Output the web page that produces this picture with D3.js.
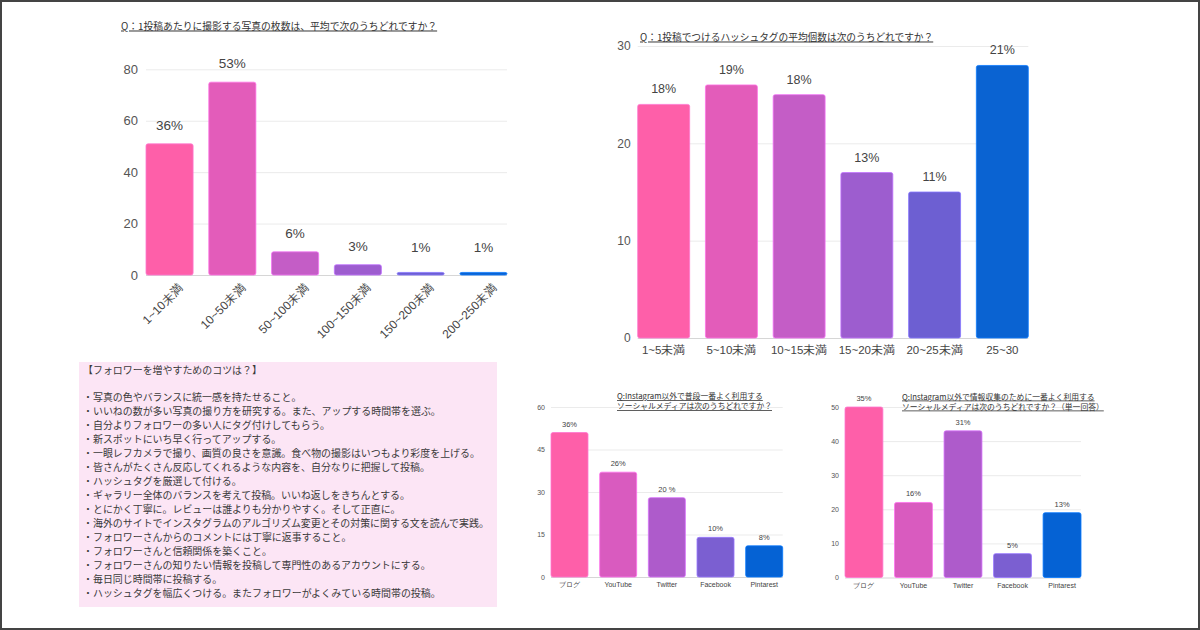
<!DOCTYPE html>
<html><head><meta charset="utf-8">
<script src="https://cdn.jsdelivr.net/npm/d3@7"></script>
<style>
body{margin:0;background:#fff}
svg{display:block;font-family:"Liberation Sans","Noto Sans CJK JP",sans-serif}
</style>
</head><body>
<svg id="c" width="1200" height="630"></svg>
<script>
// ---- data ----
const photoTitle = ["Q：1投稿あたりに撮影する写真の枚数は、平均で次のうちどれですか？"];
const photoCategories = ["1~10未満","10~50未満","50~100未満","100~150未満","150~200未満","200~250未満"];
const photoValues = [51, 75, 9, 4, 1, 1];
const photoLabels = ["36%","53%","6%","3%","1%","1%"];
const photoTicks = [0, 20, 40, 60, 80];

const tagTitle = ["Q：1投稿でつけるハッシュタグの平均個数は次のうちどれですか？"];
const tagCategories = ["1~5未満","5~10未満","10~15未満","15~20未満","20~25未満","25~30"];
const tagValues = [24, 26, 25, 17, 15, 28];
const tagLabels = ["18%","19%","18%","13%","11%","21%"];
const tagTicks = [0, 10, 20, 30];

const snsCategories = ["ブログ","YouTube","Twitter","Facebook","Pintarest"];

const snsUseTitle = ["Q:Instagram以外で普段一番よく利用する","ソーシャルメディアは次のうちどれですか？"];
const snsUseValues = [51, 37, 28, 14, 11];
const snsUseLabels = ["36%","26%","20 %","10%","8%"];
const snsUseTicks = [0, 15, 30, 45, 60];

const snsInfoTitle = ["Q:Instagram以外で情報収集のために一番よく利用する","ソーシャルメディアは次のうちどれですか？（単一回答）"];
const snsInfoValues = [50, 22, 43, 7, 19];
const snsInfoLabels = ["35%","16%","31%","5%","13%"];
const snsInfoTicks = [0, 10, 20, 30, 40, 50];

const tipsTitle = "【フォロワーを増やすためのコツは？】";
const tips = [
  "・写真の色やバランスに統一感を持たせること。",
  "・いいねの数が多い写真の撮り方を研究する。また、アップする時間帯を選ぶ。",
  "・自分よりフォロワーの多い人にタグ付けしてもらう。",
  "・新スポットにいち早く行ってアップする。",
  "・一眼レフカメラで撮り、画質の良さを意識。食べ物の撮影はいつもより彩度を上げる。",
  "・皆さんがたくさん反応してくれるような内容を、自分なりに把握して投稿。",
  "・ハッシュタグを厳選して付ける。",
  "・ギャラリー全体のバランスを考えて投稿。いいね返しをきちんとする。",
  "・とにかく丁寧に。レビューは誰よりも分かりやすく。そして正直に。",
  "・海外のサイトでインスタグラムのアルゴリズム変更とその対策に関する文を読んで実践。",
  "・フォロワーさんからのコメントには丁寧に返事すること。",
  "・フォロワーさんと信頼関係を築くこと。",
  "・フォロワーさんの知りたい情報を投稿して専門性のあるアカウントにする。",
  "・毎日同じ時間帯に投稿する。",
  "・ハッシュタグを幅広くつける。またフォロワーがよくみている時間帯の投稿。"
];

// ---- styles ----
const palette6 = ["#fe5fa9","#e35cba","#c45dc6","#9d5dcf","#6d5fd2","#0a63d2"];
const palette5 = ["#fe5fa9","#d95bbf","#ae5bcb","#7b5fd1","#0562d4"];

const svg = d3.select("#c");

// frame
svg.append("rect").attr("x",1).attr("y",1).attr("width",1198).attr("height",628)
  .attr("fill","none").attr("stroke","#444").attr("stroke-width",2);

function barChart(o){
  const g = svg.append("g");
  const x = d3.scaleBand().domain(o.cats).range([o.x0, o.x1]).paddingInner(o.pad).paddingOuter(0);
  const y = d3.scaleLinear().domain([0, d3.max(o.ticks)]).range([o.yb, o.yt]);

  // grid + y labels
  const ya = g.append("g").attr("transform",`translate(${o.x0},0)`)
    .call(d3.axisLeft(y).tickValues(o.ticks).tickSize(-(o.x1-o.x0)).tickPadding(o.tickPad));
  ya.select(".domain").remove();
  ya.selectAll("line").attr("stroke", d => d===0 ? "#d6d6d6" : "#ebebeb").attr("stroke-width", d => d===0?1.2:1);
  ya.selectAll("text").attr("fill","#555").style("font-size",o.tickFont+"px")
    .style("font-family","'Liberation Sans',sans-serif");

  // bars
  g.selectAll("rect.bar").data(o.vals).join("rect").attr("class","bar")
    .attr("x",(d,i)=>x(o.cats[i])).attr("width",x.bandwidth())
    .attr("y",d=>y(d)).attr("height",d=>y(0)-y(d))
    .attr("rx",2).attr("fill",(d,i)=>o.colors[i])
    .attr("stroke",(d,i)=>d3.color(o.colors[i]).brighter(0.6)).attr("stroke-width",0.8);

  // value labels
  g.selectAll("text.val").data(o.vals).join("text").attr("class","val")
    .attr("x",(d,i)=>x(o.cats[i])+x.bandwidth()/2)
    .attr("y",d=>Math.min(y(d)-o.labOff, o.labFloor ? y(0)-o.labFloor : 1e9))
    .attr("text-anchor","middle").attr("fill","#444")
    .style("font-size",o.labFont+"px")
    .text((d,i)=>o.labels[i]);

  // x labels
  const xa = g.append("g").attr("transform",`translate(0,${o.yb})`)
    .call(d3.axisBottom(x).tickSize(0).tickPadding(o.catPad));
  xa.select(".domain").remove();
  xa.selectAll("text").attr("fill","#444").style("font-size",o.catFont+"px");
  if(o.rotate){
    xa.selectAll("text").attr("text-anchor","end").attr("y",0).attr("dy",0)
      .attr("transform",`translate(${o.rotDx},${o.rotDy}) rotate(-45)`);
  }

  // title
  o.title.forEach((t,i)=>{
    g.append("text").attr("x",o.titleX).attr("y",o.titleY + i*o.titleLH)
      .attr("fill","#333").attr("text-decoration","underline")
      .style("font-size",o.titleFont+"px")
      .style("font-family","'Noto Sans CJK JP',sans-serif")
      .text(t);
  });
}

barChart({cats:photoCategories, vals:photoValues, labels:photoLabels, ticks:photoTicks,
  x0:146, x1:507, yb:275, yt:69.3, pad:0.25, colors:palette6,
  tickPad:8, tickFont:13, labOff:14, labFloor:23, labFont:13.5,
  catPad:0, catFont:12, rotate:true, rotDx:14, rotDy:14,
  title:photoTitle, titleX:121, titleY:29.5, titleLH:0, titleFont:9.8});

barChart({cats:tagCategories, vals:tagValues, labels:tagLabels, ticks:tagTicks,
  x0:637.7, x1:1028.3, yb:338, yt:46, pad:0.233, colors:palette6,
  tickPad:7, tickFont:12, labOff:11, labFont:12.5,
  catPad:8, catFont:11.5, rotate:false,
  title:tagTitle, titleX:640, titleY:40.5, titleLH:0, titleFont:9.7});

barChart({cats:snsCategories, vals:snsUseValues, labels:snsUseLabels, ticks:snsUseTicks,
  x0:551, x1:782.7, yb:577, yt:407, pad:0.24, colors:palette5,
  tickPad:6, tickFont:7, labOff:6, labFont:7.5,
  catPad:5.5, catFont:7, rotate:false,
  title:snsUseTitle, titleX:617, titleY:399, titleLH:10, titleFont:7.8});

barChart({cats:snsCategories, vals:snsInfoValues, labels:snsInfoLabels, ticks:snsInfoTicks,
  x0:845, x1:1081, yb:577.5, yt:407, pad:0.235, colors:palette5,
  tickPad:6, tickFont:7, labOff:6, labFont:7.5,
  catPad:6, catFont:7, rotate:false,
  title:snsInfoTitle, titleX:902, titleY:399.5, titleLH:10, titleFont:7.8});

// tips box
const box = svg.append("g");
box.append("rect").attr("x",79).attr("y",362).attr("width",418).attr("height",245).attr("fill","#fce5f5");
box.append("text").attr("x",83).attr("y",374).attr("fill","#3a3a3a")
  .style("font-size","9.95px").style("font-family","'Noto Sans CJK JP',sans-serif").text(tipsTitle);
box.selectAll("text.tip").data(tips).join("text").attr("class","tip")
  .attr("x",83).attr("y",(d,i)=>400.7 + i*14.05).attr("fill","#3a3a3a")
  .style("font-size","9.95px").style("font-family","'Noto Sans CJK JP',sans-serif")
  .text(d=>d);
</script>
</body></html>
